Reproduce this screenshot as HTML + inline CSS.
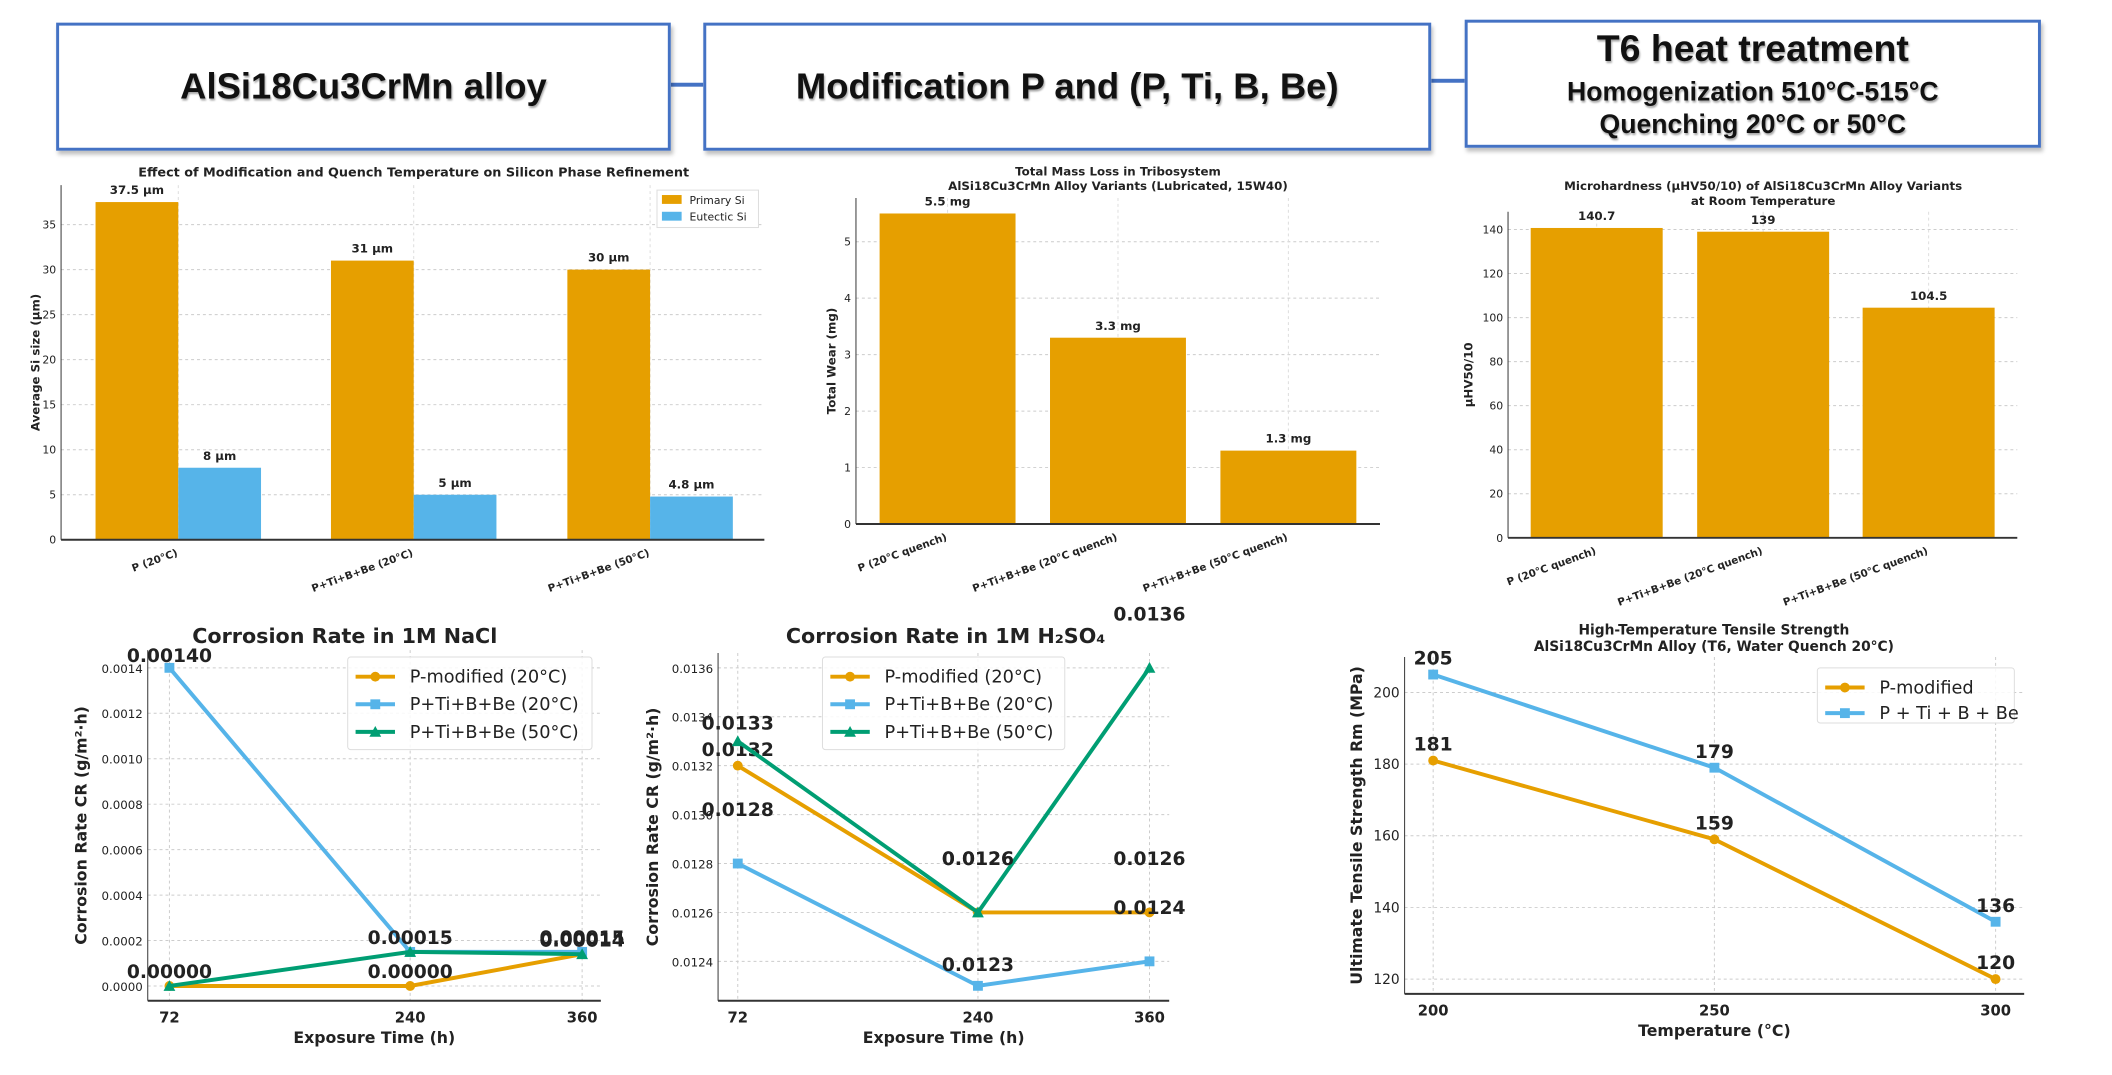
<!DOCTYPE html>
<html><head><meta charset="utf-8"><style>
html,body{margin:0;padding:0;background:#fff;width:2112px;height:1075px;overflow:hidden}
#wrap{position:absolute;left:0;top:0;width:2112px;height:1075px;transform:scale(0.985);transform-origin:0 0}
svg{display:block;font-family:"DejaVu Sans","Liberation Sans",sans-serif}
.hb{position:absolute;background:#fff;border:3px solid #4472c4;box-shadow:2px 4px 4px rgba(0,0,0,0.25);display:flex;flex-direction:column;align-items:center;justify-content:center;font-family:"Liberation Sans",sans-serif;font-weight:bold;color:#111;text-shadow:1px 2px 2px rgba(0,0,0,0.35)}
</style></head><body>
<div id="wrap">
<div style="position:absolute;left:681px;top:84px;width:33px;height:4px;background:#4472c4"></div>
<div style="position:absolute;left:1453px;top:80px;width:34px;height:4px;background:#4472c4"></div>
<div class="hb" style="left:57px;top:23px;width:618px;height:124px;font-size:37px">AlSi18Cu3CrMn alloy</div>
<div class="hb" style="left:714px;top:23px;width:733px;height:124px;font-size:37px">Modification P and (P, Ti, B, Be)</div>
<div class="hb" style="left:1487px;top:20px;width:579px;height:124px"><div style="font-size:38px">T6 heat treatment</div><div style="font-size:27px;margin-top:6px">Homogenization 510°C-515°C</div><div style="font-size:27px;margin-top:2px">Quenching 20°C or 50°C</div></div>
<svg id="s" width="2112" height="1075" style="position:absolute;left:0;top:0;pointer-events:none"></svg>
</div>
<script>
// Chart 1 data
const c1Cats=["P (20°C)","P+Ti+B+Be (20°C)","P+Ti+B+Be (50°C)"];
const c1Primary=[37.5,31,30];
const c1Eutectic=[8,5,4.8];
const c1PrimLabels=["37.5 µm","31 µm","30 µm"];
const c1EutLabels=["8 µm","5 µm","4.8 µm"];
const c1Ticks=[0,5,10,15,20,25,30,35];
// Chart 2 data
const c2Cats=["P (20°C quench)","P+Ti+B+Be (20°C quench)","P+Ti+B+Be (50°C quench)"];
const c2Vals=[5.5,3.3,1.3];
const c2Labels=["5.5 mg","3.3 mg","1.3 mg"];
const c2Ticks=[0,1,2,3,4,5];
// Chart 3 data
const c3Cats=["P (20°C quench)","P+Ti+B+Be (20°C quench)","P+Ti+B+Be (50°C quench)"];
const c3Vals=[140.7,139,104.5];
const c3Labels=["140.7","139","104.5"];
const c3Ticks=[0,20,40,60,80,100,120,140];
// Chart 4 NaCl
const c4X=[72,240,360];
const c4P=[0,0,0.00014];
const c4B20=[0.0014,0.00015,0.00015];
const c4B50=[0,0.00015,0.00014];
const c4Ticks=[0,0.0002,0.0004,0.0006,0.0008,0.0010,0.0012,0.0014];
// Chart 5 H2SO4
const c5X=[72,240,360];
const c5P=[0.0132,0.0126,0.0126];
const c5B20=[0.0128,0.0123,0.0124];
const c5B50=[0.0133,0.0126,0.0136];
const c5Ticks=[0.0124,0.0126,0.0128,0.0130,0.0132,0.0134,0.0136];
// Chart 6 tensile
const c6X=[200,250,300];
const c6P=[181,159,120];
const c6B=[205,179,136];
const c6Ticks=[120,140,160,180,200];

const NS="http://www.w3.org/2000/svg";
const svg=document.getElementById('s');
function el(tag,attrs,parent,text){const e=document.createElementNS(NS,tag);for(const k in attrs)e.setAttribute(k,attrs[k]);if(text!==undefined)e.textContent=text;(parent||svg).appendChild(e);return e;}
const OR="#E69F00",BL="#56B4E9",GR="#009E73";

function barChart(o){
  const g=el('g',{});
  
  
  const y=v=>o.y0-(v-0)*(o.y0-o.yTop)/o.ymax;
  o.ticks.forEach(t=>{const yy=y(t);
    el('line',{x1:o.L,x2:o.R,y1:yy,y2:yy,stroke:'#ccc','stroke-dasharray':'3,3','stroke-width':1},g);
    const tl=el('text',{x:o.L-5,y:yy+4,'font-size':11,'text-anchor':'end',fill:'#222'},g,t);
    });
  o.centers.forEach(c=>el('line',{x1:c,x2:c,y1:o.axTop,y2:o.y0,stroke:'#ddd','stroke-dasharray':'3,3'},g));
  o.series.forEach((s,si)=>{s.vals.forEach((v,i)=>{
    const x=o.centers[i]+s.off-o.bw/2;
    const r=el('rect',{x:x,y:y(v),width:o.bw,height:o.y0-y(v),fill:s.color},g);
    
    const t=el('text',{x:x+o.bw/2,y:y(v)-8,'font-size':12,'font-weight':'bold','text-anchor':'middle',fill:'#222'},g,s.labels[i]);
    
  });});
  el('line',{x1:o.L,x2:o.L,y1:o.axTop,y2:o.y0,stroke:'#333','stroke-width':1},g);
  el('line',{x1:o.L,x2:o.R,y1:o.y0,y2:o.y0,stroke:'#333','stroke-width':2},g);
  o.cats.forEach((c,i)=>{const x=o.centers[i];
    const t=el('text',{x:x,y:o.y0+16,'font-size':10.5,'font-weight':'bold','text-anchor':'end',fill:'#222',transform:`rotate(-20 ${x} ${o.y0+16})`},g,c);
    });
  const yl=el('text',{x:o.ylx,y:(o.axTop+o.y0)/2,'font-size':12,'font-weight':'bold','text-anchor':'middle',fill:'#222',transform:`rotate(-90 ${o.ylx} ${(o.axTop+o.y0)/2})`},g,o.ylabel);
  
  o.title.forEach((tt,i)=>{const t=el('text',{x:o.tx,y:o.ty+i*15,'font-size':o.tfs,'font-weight':'bold','text-anchor':'middle',fill:'#222'},g,tt);
    });
  return g;
}
barChart({name:'si-size-chart',L:62,R:776,y0:548,yTop:228,ymax:35,axTop:188,ticks:c1Ticks,centers:[181,420,660],bw:84,
 series:[{vals:c1Primary,off:-42,color:OR,labels:c1PrimLabels},{vals:c1Eutectic,off:42,color:BL,labels:c1EutLabels}],
 cats:c1Cats,ylabel:'Average Si size (µm)',ylx:40,title:['Effect of Modification and Quench Temperature on Silicon Phase Refinement'],tx:420,ty:179,tfs:13});
(function(){const lg=el('g',{});
 el('rect',{x:667,y:193,width:103,height:38,fill:'#fff',stroke:'#ddd'},lg);
 el('rect',{x:672,y:198,width:20,height:9,fill:OR},lg);el('text',{x:700,y:207,'font-size':11,fill:'#222'},lg,'Primary Si');
 el('rect',{x:672,y:215,width:20,height:9,fill:BL},lg);el('text',{x:700,y:224,'font-size':11,fill:'#222'},lg,'Eutectic Si');})();
barChart({name:'wear-chart',L:869,R:1401,y0:532,yTop:245.4,ymax:5,axTop:201,ticks:c2Ticks,centers:[962,1135,1308],bw:138,
 series:[{vals:c2Vals,off:0,color:OR,labels:c2Labels}],cats:c2Cats,ylabel:'Total Wear (mg)',ylx:848,
 title:['Total Mass Loss in Tribosystem','AlSi18Cu3CrMn Alloy Variants (Lubricated, 15W40)'],tx:1135,ty:178,tfs:12});
barChart({name:'microhardness-chart',L:1531,R:2048,y0:546,yTop:233,ymax:140,axTop:215,ticks:c3Ticks,centers:[1621,1790,1958],bw:134,
 series:[{vals:c3Vals,off:0,color:OR,labels:c3Labels}],cats:c3Cats,ylabel:'µHV50/10',ylx:1495,
 title:['Microhardness (µHV50/10) of AlSi18Cu3CrMn Alloy Variants','at Room Temperature'],tx:1790,ty:193,tfs:12});

function lineChart(o){
  const g=el('g',{});
  const x=v=>o.xa+(v-o.xv[0])*(o.xb-o.xa)/(o.xv[1]-o.xv[0]);
  const y=v=>o.ya+(v-o.yv[0])*(o.yb-o.ya)/(o.yv[1]-o.yv[0]);
  o.ticks.forEach(t=>{const yy=y(t);
    el('line',{x1:o.L,x2:o.R,y1:yy,y2:yy,stroke:'#ccc','stroke-dasharray':'3,3'},g);
    const tl=el('text',{x:o.L-5,y:yy+5,'font-size':o.tfs,'text-anchor':'end',fill:'#222'},g,o.fmt(t));
    });
  o.xs.forEach(v=>{const xx=x(v);
    el('line',{x1:xx,x2:xx,y1:o.top,y2:o.bot,stroke:'#ccc','stroke-dasharray':'3,3'},g);
    const t=el('text',{x:xx,y:o.bot+22,'font-size':15,'font-weight':'bold','text-anchor':'middle',fill:'#222'},g,v);
    });
  el('line',{x1:o.L,x2:o.L,y1:o.top,y2:o.bot,stroke:'#333'},g);
  el('line',{x1:o.L,x2:o.R,y1:o.bot,y2:o.bot,stroke:'#333','stroke-width':2},g);
  o.series.forEach((s,si)=>{
    const pts=s.vals.map((v,i)=>[x(o.xs[i]),y(v)]);
    const p=el('polyline',{points:pts.map(p=>p.join(',')).join(' '),fill:'none',stroke:s.color,'stroke-width':4},g);
    
    pts.forEach(([px,py])=>{let m;
      if(s.mk==='o')m=el('circle',{cx:px,cy:py,r:5,fill:s.color},g);
      else if(s.mk==='s')m=el('rect',{x:px-5,y:py-5,width:10,height:10,fill:s.color},g);
      else m=el('polygon',{points:`${px},${py-6} ${px-6},${py+5} ${px+6},${py+5}`,fill:s.color},g);
      });
    if(s.lab)s.vals.forEach((v,i)=>{if(s.lab[i]===null)return;
      const t=el('text',{x:x(o.xs[i]),y:y(v)+s.lab[i],'font-size':19,'font-weight':'bold','text-anchor':'middle',fill:'#222'},g,o.lfmt(v));
      });
  });
  o.title.forEach((tt,i)=>{const t=el('text',{x:o.tx,y:o.ty+i*17,'font-size':o.ttfs,'font-weight':'bold','text-anchor':'middle',fill:'#222'},g,tt);
    });
  const xl=el('text',{x:(o.L+o.R)/2,y:o.bot+43,'font-size':16,'font-weight':'bold','text-anchor':'middle',fill:'#222'},g,o.xlabel);
  
  const cy=(o.top+o.bot)/2;
  const yl=el('text',{x:o.ylx,y:cy,'font-size':16,'font-weight':'bold','text-anchor':'middle',fill:'#222',transform:`rotate(-90 ${o.ylx} ${cy})`},g,o.ylabel);
  
  const lg=el('g',{});g.appendChild(lg);
  el('rect',{x:o.lg[0],y:o.lg[1],width:o.lg[2],height:o.lg[3],fill:'#fff','fill-opacity':0.85,stroke:'#ddd',rx:3},lg);
  o.series.forEach((s,i)=>{const yy=o.lg[1]+20+i*o.lgs;const lx=o.lg[0]+8;
    el('line',{x1:lx,x2:lx+40,y1:yy,y2:yy,stroke:s.color,'stroke-width':4},lg);
    if(s.mk==='o')el('circle',{cx:lx+20,cy:yy,r:5,fill:s.color},lg);
    else if(s.mk==='s')el('rect',{x:lx+15,y:yy-5,width:10,height:10,fill:s.color},lg);
    else el('polygon',{points:`${lx+20},${yy-6} ${lx+14},${yy+5} ${lx+26},${yy+5}`,fill:s.color},lg);
    el('text',{x:lx+55,y:yy+6,'font-size':18,fill:'#222'},lg,s.name);});
}
lineChart({name:'nacl-corrosion-chart',L:150,R:610,top:660,bot:1016,xs:c4X,xv:[72,360],xa:172,xb:591,yv:[0,0.0014],ya:1001,yb:678,
 ticks:c4Ticks,fmt:t=>t.toFixed(4),tfs:12,lfmt:v=>v.toFixed(5),
 series:[{key:'p-modified',name:'P-modified (20°C)',vals:c4P,color:OR,mk:'o',lab:[null,-8,-8]},
  {key:'ptibbe-20',name:'P+Ti+B+Be (20°C)',vals:c4B20,color:BL,mk:'s',lab:[-6,-8,-8]},
  {key:'ptibbe-50',name:'P+Ti+B+Be (50°C)',vals:c4B50,color:GR,mk:'^',lab:[-8,null,-8]}],
 title:['Corrosion Rate in 1M NaCl'],tx:350,ty:653,ttfs:21,xlabel:'Exposure Time (h)',ylabel:'Corrosion Rate CR (g/m²·h)',ylx:88,lg:[353,667,248,94],lgs:28});
lineChart({name:'h2so4-corrosion-chart',L:729,R:1187,top:663,bot:1016,xs:c5X,xv:[72,360],xa:749,xb:1167,yv:[0.0124,0.0136],ya:976,yb:678,
 ticks:c5Ticks,fmt:t=>t.toFixed(4),tfs:12,lfmt:v=>v.toFixed(4),
 series:[{key:'p-modified',name:'P-modified (20°C)',vals:c5P,color:OR,mk:'o',lab:[-10,-48,-48]},
  {key:'ptibbe-20',name:'P+Ti+B+Be (20°C)',vals:c5B20,color:BL,mk:'s',lab:[-48,-15,-48]},
  {key:'ptibbe-50',name:'P+Ti+B+Be (50°C)',vals:c5B50,color:GR,mk:'^',lab:[-12,-48,-48]}],
 title:['Corrosion Rate in 1M H₂SO₄'],tx:960,ty:653,ttfs:21,xlabel:'Exposure Time (h)',ylabel:'Corrosion Rate CR (g/m²·h)',ylx:668,lg:[835,667,246,94],lgs:28});
lineChart({name:'tensile-strength-chart',L:1426,R:2055,top:667,bot:1009,xs:c6X,xv:[200,300],xa:1455,xb:2026,yv:[120,200],ya:994,yb:703,
 ticks:c6Ticks,fmt:t=>t,tfs:14,lfmt:v=>v,
 series:[{key:'p-modified',name:'P-modified',vals:c6P,color:OR,mk:'o',lab:[-10,-10,-10]},
  {key:'ptibbe',name:'P + Ti + B + Be',vals:c6B,color:BL,mk:'s',lab:[-10,-10,-10]}],
 title:['High-Temperature Tensile Strength','AlSi18Cu3CrMn Alloy (T6, Water Quench 20°C)'],tx:1740,ty:644,ttfs:14,xlabel:'Temperature (°C)',ylabel:'Ultimate Tensile Strength Rm (MPa)',ylx:1383,lg:[1845,678,200,56],lgs:26});
</script>
</body></html>
